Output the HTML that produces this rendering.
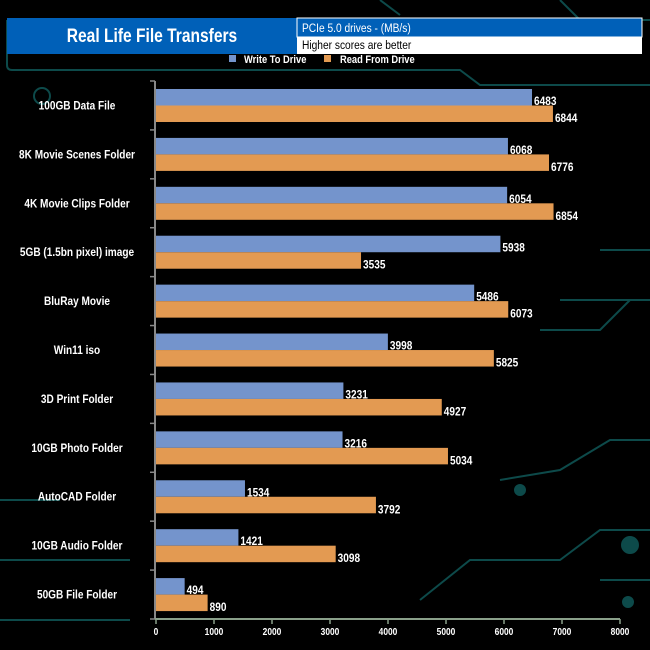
<!DOCTYPE html>
<html><head><meta charset="utf-8"><style>
body{margin:0;background:#000;}
svg{display:block;font-family:"Liberation Sans",Arial,sans-serif;}
</style></head><body>
<svg id="c" width="650" height="650" viewBox="0 0 650 650">
<g stroke="#0d4a4a" stroke-width="2" fill="none">
<path d="M7 20 V65 Q7 70 12 70 H460 L480 85 H650"/>
<path d="M560 0 L580 20 H650"/>
<path d="M380 0 L400 15"/>
<path d="M600 250 H650 M560 300 H650 M540 330 L600 330 L630 300"/>
<path d="M0 620 H130 M0 560 H130 M0 500 H60"/>
<path d="M420 600 L470 560 H560 L600 530 H650"/>
<path d="M500 480 L560 470 L610 440 H650"/>
<path d="M600 580 L650 580"/>
<circle cx="630" cy="545" r="8" fill="#0d4a4a"/>
<circle cx="520" cy="490" r="5" fill="#0d4a4a"/>
<circle cx="628" cy="602" r="5" fill="#0d4a4a"/>
<circle cx="42" cy="96" r="8"/>
</g>
<g>
<rect x="7" y="18" width="290" height="36" fill="#0060b8"/>
<text transform="translate(152,42) scale(0.82,1)" text-anchor="middle" fill="#fff" font-size="19" font-weight="bold">Real Life File Transfers</text>
<rect x="297" y="18" width="345" height="19" fill="#0060b8" stroke="#fff" stroke-width="1"/>
<rect x="297" y="37" width="345" height="17" fill="#fff"/>
<text transform="translate(302,32) scale(0.85,1)" fill="#fff" font-size="12">PCIe 5.0 drives - (MB/s)</text>
<text transform="translate(302,49) scale(0.85,1)" fill="#000" font-size="12">Higher scores are better</text>
</g>
<g font-size="11" font-weight="bold" fill="#fff">
<rect x="229" y="55" width="7" height="7" fill="#7494cc"/>
<text transform="translate(244,63) scale(0.85,1)">Write To  Drive</text>
<rect x="324" y="55" width="7" height="7" fill="#e39a52"/>
<text transform="translate(340,63) scale(0.85,1)">Read From  Drive</text>
</g>
<g id="plot"></g>
</svg>
<script>
const categories=["100GB Data File","8K Movie Scenes Folder","4K Movie Clips Folder","5GB (1.5bn pixel) image","BluRay Movie","Win11 iso","3D Print Folder","10GB Photo Folder","AutoCAD Folder","10GB Audio Folder","50GB File Folder"];
const writeVals=[6483,6068,6054,5938,5486,3998,3231,3216,1534,1421,494];
const readVals=[6844,6776,6854,3535,6073,5825,4927,5034,3792,3098,890];
const ticks=[0,1000,2000,3000,4000,5000,6000,7000,8000];
const NS="http://www.w3.org/2000/svg";
const g=document.getElementById('plot');
const x0=156,x1=620,yTop=81,yBot=619,maxV=8000;
const xs=v=>x0+(x1-x0)*v/maxV;
const band=(yBot-yTop)/categories.length;
function mk(t,a){const e=document.createElementNS(NS,t);for(const k in a)e.setAttribute(k,a[k]);g.appendChild(e);return e;}
function txt(x,y,s,size,anchor){return mk('text',{transform:'translate('+x+','+y+') scale(0.84,1)','text-anchor':anchor,fill:'#fff','font-size':size,'font-weight':'bold'});}
let e;
e=mk('line',{x1:x0-1,y1:yTop,x2:x0-1,y2:yBot,stroke:'#888','stroke-width':2});


e=mk('line',{x1:x0-1,y1:yBot,x2:x1,y2:yBot,stroke:'#8aa08a','stroke-width':2});


ticks.forEach(t=>{
 const x=xs(t);
 e=mk('line',{x1:x,y1:yBot,x2:x,y2:yBot+5,stroke:'#8aa08a','stroke-width':1.5});
 
 
 e=txt(x,yBot+16,0,10,'middle');
 e.textContent=t;
 
 
});
for(let i=0;i<=categories.length;i++){
 e=mk('line',{x1:x0-6,y1:yTop+band*i,x2:x0-1,y2:yTop+band*i,stroke:'#888','stroke-width':1.5});
 
 
}
categories.forEach((c,i)=>{
 const by=yTop+band*i;
 e=txt(77,by+band/2+4,0,12,'middle');
 e.textContent=c;
 
 
 e=mk('rect',{x:x0,y:by+8,width:xs(writeVals[i])-x0,height:16.5,fill:'#7494cc'});
 
 
 e=mk('rect',{x:x0,y:by+24.5,width:xs(readVals[i])-x0,height:16.5,fill:'#e39a52'});
 
 
 e=txt(xs(writeVals[i])+2,by+24,0,12,'start');
 e.textContent=writeVals[i];
 
 
 e=txt(xs(readVals[i])+2,by+41,0,12,'start');
 e.textContent=readVals[i];
 
 
});
</script>
</body></html>
